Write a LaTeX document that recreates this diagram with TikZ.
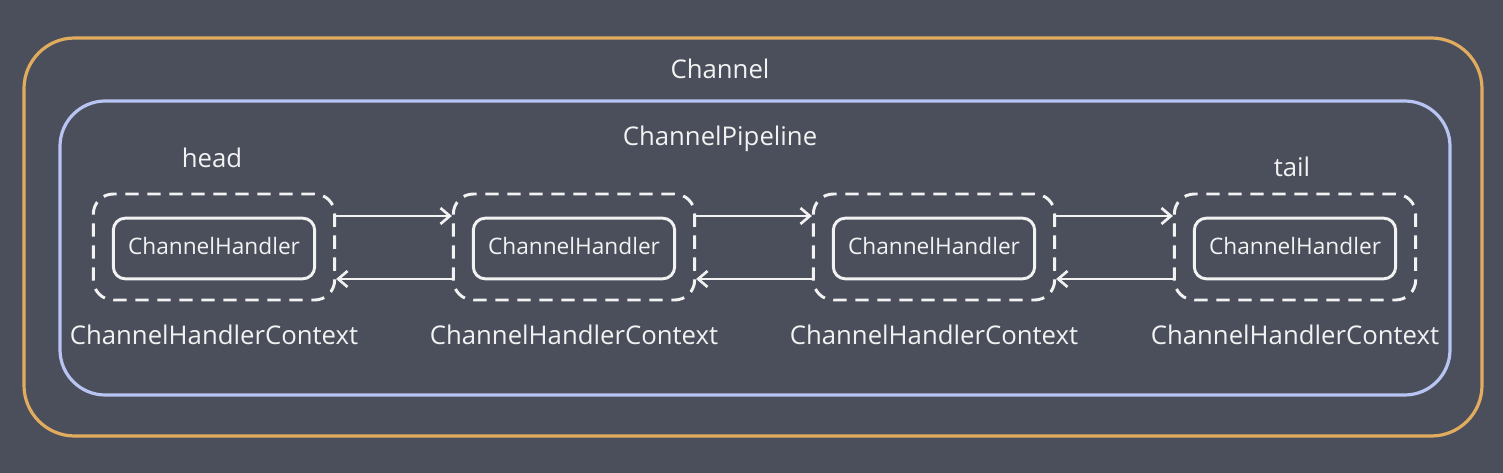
\documentclass[tikz,border=0pt]{standalone}
\usepackage{fontspec}
\setmainfont{Open Sans}
\usetikzlibrary{arrows.meta}
\definecolor{bg}{HTML}{4B4F5B}
\definecolor{org}{HTML}{E2AC5E}
\definecolor{blu}{HTML}{B8C4F2}
\definecolor{fg}{HTML}{F2F2F2}
\tikzset{
  ctxbox/.style={draw=fg, line width=2.2pt, dash pattern=on 10pt off 6.5pt, rounded corners=15pt, minimum width=181pt, minimum height=79.5pt},
  hbox/.style={draw=fg, line width=2.2pt, rounded corners=9pt, minimum width=151pt, minimum height=45.5pt, inner sep=0pt},
  htxt/.style={text=fg, font=\fontsize{17}{19}\selectfont, inner sep=0pt, anchor=base},
  lbl/.style={text=fg, font=\fontsize{19.3}{21}\selectfont, inner sep=0pt, anchor=base},
  arr/.style={draw=fg, line width=2.2pt, -{Straight Barb[length=7pt,width=12pt,line width=2pt]}},
}
\begin{document}
\begin{tikzpicture}[x=0.75pt,y=-0.75pt]
\fill[bg] (0,0) rectangle (1503,473);
\useasboundingbox (0,0) rectangle (1503,473);
\draw[org, line width=2.4pt, rounded corners=38pt] (24,38) rectangle (1482,436);
\draw[blu, line width=2.4pt, rounded corners=34pt] (60,101) rectangle (1450,395);
\node[lbl] (chan) at (720,79) {Channel};
\node[lbl] (pipe) at (720,146) {ChannelPipeline};
\foreach \i/\x in {1/214,2/574,3/934,4/1295}{
  \node[ctxbox] (c\i) at (\x,247) {};
  \node[hbox] (h\i) at (\x,248.5) {};
  \node[htxt] (t\i) at (\x,255) {ChannelHandler};
  \node[lbl] (l\i) at (\x,345) {ChannelHandlerContext};
}
\node[lbl] (head) at (212,168) {head};
\node[lbl] (tail) at (1292,177) {tail};
\foreach \a/\b in {1/2,2/3,3/4}{
  \draw[arr] ([yshift=23.25pt]c\a.east) -- ([yshift=23.25pt]c\b.west);
  \draw[arr] ([yshift=-24pt]c\b.west) -- ([yshift=-24pt]c\a.east);
}
\end{tikzpicture}
\end{document}
